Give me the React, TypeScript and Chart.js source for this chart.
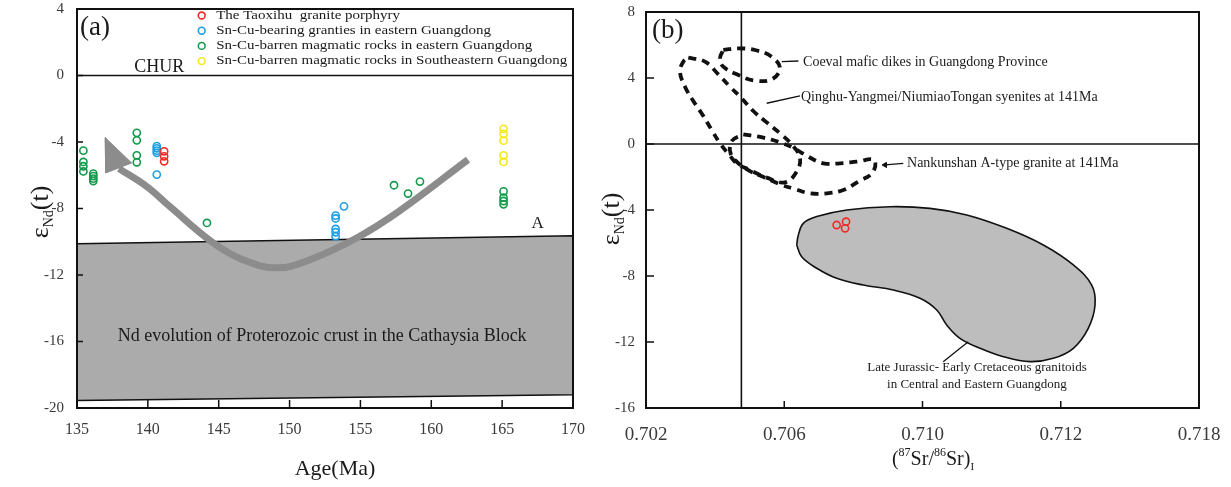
import React, { useEffect, useRef } from 'react';
import { Chart, registerables } from 'chart.js';

Chart.register(...registerables);

const SERIF = "'Liberation Serif', 'Times New Roman', serif";

// ---------------- Panel (a): εNd(t) vs Age ----------------
const ageTicksStep = 5;
const ageRange = [135, 170];
const ndRangeA = [-20, 4];

const legendLabels = [
  'The Taoxihu  granite porphyry',
  'Sn-Cu-bearing granties in eastern Guangdong',
  'Sn-Cu-barren magmatic rocks in eastern Guangdong',
  'Sn-Cu-barren magmatic rocks in Southeastern Guangdong',
];
const seriesColors = ['#ee2b26', '#1c9fe3', '#14994a', '#f5e81c'];

const taoxihu: number[][] = [
  [141.15, -4.56], [141.15, -4.86], [141.15, -5.16],
];
const snCuBearing: number[][] = [
  [140.63, -4.25], [140.63, -4.38], [140.63, -4.52], [140.63, -4.65], [140.63, -5.96],
  [153.84, -7.87], [153.25, -8.43], [153.25, -8.6],
  [153.25, -9.23], [153.25, -9.43], [153.25, -9.67],
];
const snCuBarrenEast: number[][] = [
  [135.45, -4.52], [135.45, -5.2], [135.45, -5.46], [135.45, -5.77],
  [136.15, -5.9], [136.15, -6.05], [136.15, -6.2], [136.15, -6.35],
  [139.22, -3.45], [139.22, -3.9], [139.22, -4.8], [139.22, -5.22],
  [144.17, -8.87],
  [157.37, -6.6], [158.36, -7.1], [159.2, -6.38],
  [165.1, -6.97], [165.1, -7.35], [165.1, -7.55], [165.1, -7.75],
];
const snCuBarrenSE: number[][] = [
  [165.1, -3.21], [165.1, -3.51], [165.1, -3.92], [165.1, -4.8], [165.1, -5.2],
];

const churLine: number[][] = [[135, 0], [170, 0]];
const crustField: number[][] = [
  [135, -10.12], [170, -9.64], [170, -19.2], [135, -19.55], [135, -10.12],
];
const evolutionPath: number[][] = [
  [162.59, -5.06], [157.79, -8.13], [154.76, -9.76], [151.44, -11.08], [149.11, -11.57],
  [146.71, -11.08], [144.6, -10.06], [141.56, -7.89], [139.94, -6.69], [137.96, -5.6],
];
const arrowHead: number[][] = [
  [136.98, -3.73], [137.03, -5.86], [138.86, -5.26], [136.98, -3.73],
];

// ---------------- Panel (b): εNd(t) vs (87Sr/86Sr)i ----------------
// x axis is drawn in tick-interval units (0..4) labelled with the printed values
const srTickLabels = ['0.702', '0.706', '0.710', '0.712', '0.718'];
const ndRangeB = [-16, 8];
const bulkEarthSrPos = 0.69;

const taoxihuSrNd: number[][] = [[1.379, -4.91], [1.447, -4.71], [1.44, -5.11]];

const maficDikesField: number[][] = [
  [0.559, 5.7], [0.668, 5.8], [0.796, 5.68], [0.909, 5.29], [0.969, 4.59], [0.909, 3.92],
  [0.776, 3.86], [0.668, 4.18], [0.559, 4.69], [0.535, 5.19], [0.559, 5.7],
];
const syeniteField: number[][] = [
  [0.306, 5.23], [0.427, 4.99], [0.523, 4.22], [0.608, 3.47], [0.692, 2.77], [0.776, 2.0],
  [0.873, 1.31], [0.969, 0.65], [1.061, -0.1], [1.114, -0.83], [1.09, -1.68], [1.005, -2.32],
  [0.873, -2.04], [0.752, -1.58], [0.656, -1.17], [0.603, -0.67], [0.535, 0.04], [0.475, 0.85],
  [0.41, 1.76], [0.342, 2.61], [0.282, 3.47], [0.246, 4.38], [0.27, 4.99], [0.306, 5.23],
];
const nankunshanField: number[][] = [
  [0.704, 0.59], [0.849, 0.38], [0.969, 0.1], [1.071, -0.26], [1.174, -0.77], [1.283, -1.17],
  [1.403, -1.17], [1.524, -1.07], [1.649, -0.97], [1.64, -1.72], [1.536, -2.28], [1.427, -2.79],
  [1.307, -2.99], [1.186, -2.99], [1.078, -2.73], [0.969, -2.44], [0.861, -2.04], [0.752, -1.64],
  [0.668, -1.17], [0.612, -0.57], [0.62, 0.18], [0.704, 0.59],
];
const jurassicField: number[][] = [
  [1.09, -6.12], [1.102, -5.52], [1.138, -4.81], [1.235, -4.4], [1.452, -4.0], [1.765, -3.8],
  [2.054, -3.9], [2.32, -4.3], [2.609, -5.11], [2.874, -6.12], [3.091, -7.33], [3.224, -8.55],
  [3.248, -9.76], [3.199, -11.17], [3.091, -12.38], [2.946, -12.99], [2.778, -13.19],
  [2.585, -12.89], [2.416, -12.38], [2.271, -11.78], [2.175, -10.97], [2.103, -10.06],
  [1.982, -9.35], [1.789, -8.85], [1.572, -8.55], [1.379, -8.14], [1.235, -7.53],
  [1.126, -6.83], [1.09, -6.12],
];
const leaderMafic: number[][] = [[0.982, 4.99], [1.102, 5.03]];
const leaderSyenite: number[][] = [[0.873, 2.47], [1.114, 2.91]];
const leaderNankunshan: number[][] = [[1.861, -1.17], [1.729, -1.27]];
const leaderJurassic: number[][] = [[2.331, -11.98], [2.15, -13.19]];

const fieldLabels = [
  'Coeval mafic dikes in Guangdong Province',
  'Qinghu-Yangmei/NiumiaoTongan syenites at 141Ma',
  'Nankunshan A-type granite at 141Ma',
  'Late Jurassic- Early Cretaceous granitoids',
  'in Central and Eastern Guangdong',
];

const pts = (arr: number[][]) => arr.map(([x, y]) => ({ x, y }));

function drawEpsNd(ctx: CanvasRenderingContext2D, cx: number, cy: number) {
  ctx.save();
  ctx.translate(cx, cy);
  ctx.rotate(-Math.PI / 2);
  ctx.fillStyle = '#1a1a1a';
  ctx.textBaseline = 'alphabetic';
  ctx.textAlign = 'left';
  const big = `26px ${SERIF}`;
  const small = `14px ${SERIF}`;
  ctx.font = big;
  const w1 = ctx.measureText('ε').width;
  const w3 = ctx.measureText('(t)').width;
  ctx.font = small;
  const w2 = ctx.measureText('Nd').width;
  let x0 = -(w1 + w2 + w3) / 2;
  ctx.font = big;
  ctx.fillText('ε', x0, 9);
  x0 += w1;
  ctx.font = small;
  ctx.fillText('Nd', x0, 14);
  x0 += w2;
  ctx.font = big;
  ctx.fillText('(t)', x0, 9);
  ctx.restore();
}

function frameAndTicks(chart: any, xTickLen: number, yTickLen: number) {
  const { ctx, chartArea: a, scales } = chart;
  const xs = scales.x;
  const ys = scales.y;
  ctx.strokeStyle = '#111';
  ctx.lineWidth = 2;
  ctx.strokeRect(a.left, a.top, a.right - a.left, a.bottom - a.top);
  ctx.lineWidth = 1.5;
  ctx.beginPath();
  xs.ticks.forEach((t: any) => {
    const px = xs.getPixelForValue(t.value);
    ctx.moveTo(px, a.bottom);
    ctx.lineTo(px, a.bottom - xTickLen);
  });
  ys.ticks.forEach((t: any) => {
    const py = ys.getPixelForValue(t.value);
    ctx.moveTo(a.left, py);
    ctx.lineTo(a.left + yTickLen, py);
  });
  ctx.stroke();
}

const decorA = {
  id: 'decorA',
  afterDatasetsDraw(chart: any) {
    const { ctx, chartArea: a, scales } = chart;
    const x = scales.x;
    const y = scales.y;
    ctx.save();
    frameAndTicks(chart, 8, 6);
    ctx.fillStyle = '#1a1a1a';
    ctx.textAlign = 'center';
    ctx.textBaseline = 'alphabetic';
    ctx.font = `18px ${SERIF}`;
    ctx.fillText('CHUR', x.getPixelForValue(140.8), y.getPixelForValue(0.2));
    ctx.font = `17px ${SERIF}`;
    ctx.fillText('A', x.getPixelForValue(167.5), y.getPixelForValue(-9.2));
    ctx.font = `18px ${SERIF}`;
    ctx.textBaseline = 'middle';
    ctx.fillText('Nd evolution of Proterozoic crust in the Cathaysia Block',
      x.getPixelForValue(152.3), y.getPixelForValue(-15.7));
    ctx.textAlign = 'left';
    ctx.textBaseline = 'alphabetic';
    ctx.font = `27px ${SERIF}`;
    ctx.fillText('(a)', a.left + 3, a.top + 26);

    // legend
    ctx.font = `12.5px ${SERIF}`;
    const longest = Math.max(...legendLabels.map((l) => ctx.measureText(l).width));
    const sx = 351 / longest;
    const lx = a.left + 124.7;
    legendLabels.forEach((label, i) => {
      const ly = a.top + 6.5 + i * 15.2;
      ctx.beginPath();
      ctx.strokeStyle = seriesColors[i];
      ctx.lineWidth = 1.6;
      ctx.arc(lx, ly, 3.4, 0, Math.PI * 2);
      ctx.stroke();
      ctx.save();
      ctx.translate(lx + 14.5, ly);
      ctx.scale(sx, 1);
      ctx.fillStyle = '#1a1a1a';
      ctx.textBaseline = 'middle';
      ctx.fillText(label, 0, 0);
      ctx.restore();
    });

    drawEpsNd(ctx, 39, 212);
    ctx.fillStyle = '#1a1a1a';
    ctx.textAlign = 'center';
    ctx.textBaseline = 'middle';
    ctx.font = `22px ${SERIF}`;
    ctx.fillText('Age(Ma)', (a.left + a.right) / 2 + 10, 469);
    ctx.restore();
  },
};

const decorB = {
  id: 'decorB',
  afterDatasetsDraw(chart: any) {
    const { ctx, chartArea: a, scales } = chart;
    const x = scales.x;
    const y = scales.y;
    ctx.save();
    frameAndTicks(chart, 7, 8);
    ctx.fillStyle = '#1a1a1a';
    ctx.textAlign = 'left';
    ctx.textBaseline = 'middle';
    ctx.font = `14px ${SERIF}`;
    ctx.fillText(fieldLabels[0], x.getPixelForValue(1.136), y.getPixelForValue(4.97));
    ctx.fillText(fieldLabels[1], x.getPixelForValue(1.121), y.getPixelForValue(2.85));
    ctx.fillText(fieldLabels[2], x.getPixelForValue(1.888), y.getPixelForValue(-1.15));
    ctx.textAlign = 'center';
    ctx.font = `13px ${SERIF}`;
    ctx.fillText(fieldLabels[3], x.getPixelForValue(2.394), y.getPixelForValue(-13.58));
    ctx.fillText(fieldLabels[4], x.getPixelForValue(2.394), y.getPixelForValue(-14.6));
    ctx.textAlign = 'left';
    ctx.textBaseline = 'alphabetic';
    ctx.font = `27px ${SERIF}`;
    ctx.fillText('(b)', a.left + 6, a.top + 26);

    drawEpsNd(ctx, 10, 219);

    // x title: (87Sr/86Sr)I
    const big = `20px ${SERIF}`;
    const sup = `12px ${SERIF}`;
    const parts: [string, string, number][] = [
      ['(', big, 0], ['87', sup, -9], ['Sr/', big, 0], ['86', sup, -9], ['Sr)', big, 0], ['I', `11px ${SERIF}`, 5],
    ];
    let total = 0;
    parts.forEach(([t, f]) => { ctx.font = f; total += ctx.measureText(t).width; });
    let px = 333 - total / 2;
    const base = 465;
    parts.forEach(([t, f, dy]) => {
      ctx.font = f;
      ctx.fillText(t, px, base + dy);
      px += ctx.measureText(t).width;
    });
    ctx.restore();
  },
};

function baseScales(xMin: number, xMax: number, xStep: number, yMin: number, yMax: number,
  yW: number, xH: number, xFont: number, yFont: number, xPad: number, yPad: number, xCb?: any) {
  return {
    x: {
      type: 'linear', min: xMin, max: xMax,
      ticks: {
        stepSize: xStep, autoSkip: false, maxRotation: 0, padding: xPad,
        color: '#3a3a3a', font: { family: SERIF, size: xFont },
        ...(xCb ? { callback: xCb } : {}),
      },
      grid: { display: false, drawTicks: false },
      border: { display: false },
      afterFit: (s: any) => { s.height = xH; s.paddingLeft = 0; s.paddingRight = 0; },
    },
    y: {
      type: 'linear', min: yMin, max: yMax,
      ticks: { stepSize: 4, padding: yPad, color: '#3a3a3a', font: { family: SERIF, size: yFont } },
      grid: { display: false, drawTicks: false },
      border: { display: false },
      afterFit: (s: any) => { s.width = yW; s.paddingTop = 0; s.paddingBottom = 0; },
    },
  };
}

export default function App() {
  const refA = useRef<HTMLCanvasElement>(null);
  const refB = useRef<HTMLCanvasElement>(null);

  useEffect(() => {
    const scatterSet = (label: string, data: number[][], color: string) => ({
      label, data: pts(data), showLine: false, order: 0,
      pointRadius: 3.6, pointBorderWidth: 1.6, pointBorderColor: color,
      pointBackgroundColor: 'rgba(0,0,0,0)', pointHoverRadius: 3.6,
    });
    const lineSet = (data: number[][], extra: any) => ({
      data: pts(data), showLine: true, pointRadius: 0, fill: false, tension: 0, ...extra,
    });

    const chartA = new Chart(refA.current as HTMLCanvasElement, {
      type: 'scatter',
      data: {
        datasets: [
          scatterSet(legendLabels[0], taoxihu, seriesColors[0]),
          scatterSet(legendLabels[1], snCuBearing, seriesColors[1]),
          scatterSet(legendLabels[2], snCuBarrenEast, seriesColors[2]),
          scatterSet(legendLabels[3], snCuBarrenSE, seriesColors[3]),
          lineSet(arrowHead, { order: 1, fill: 'shape', backgroundColor: '#8c8c8c', borderColor: '#8c8c8c', borderWidth: 1 }),
          lineSet(evolutionPath, { order: 1, tension: 0.4, borderColor: '#8c8c8c', borderWidth: 7 }),
          lineSet(churLine, { order: 2, borderColor: '#111', borderWidth: 1.5 }),
          lineSet(crustField, { order: 3, fill: 'shape', backgroundColor: '#ababab', borderColor: '#111', borderWidth: 1.6 }),
        ],
      } as any,
      options: {
        responsive: false,
        animation: false,
        events: [],
        layout: { padding: { left: 0, top: 9, right: 27, bottom: 0 } },
        plugins: { legend: { display: false }, tooltip: { enabled: false } },
        scales: baseScales(ageRange[0], ageRange[1], ageTicksStep, ndRangeA[0], ndRangeA[1],
          77, 79, 16, 15, 12, 13) as any,
      },
      plugins: [decorA],
    });

    const dashed = { borderColor: '#111', borderWidth: 3.8, borderDash: [8, 6], tension: 0.4, order: 2 };
    const chartB = new Chart(refB.current as HTMLCanvasElement, {
      type: 'scatter',
      data: {
        datasets: [
          scatterSet('Taoxihu', taoxihuSrNd, seriesColors[0]),
          lineSet(maficDikesField, dashed),
          lineSet(syeniteField, dashed),
          lineSet(nankunshanField, dashed),
          lineSet(leaderMafic, { order: 1, borderColor: '#111', borderWidth: 1.3 }),
          lineSet(leaderSyenite, { order: 1, borderColor: '#111', borderWidth: 1.3 }),
          lineSet(leaderNankunshan, {
            order: 1, borderColor: '#111', borderWidth: 1.3,
            pointRadius: [0, 3], pointStyle: 'triangle', rotation: 270,
            pointBackgroundColor: '#111', pointBorderColor: '#111', pointBorderWidth: 1,
          }),
          lineSet(leaderJurassic, { order: 1, borderColor: '#111', borderWidth: 1.3 }),
          lineSet([[bulkEarthSrPos, ndRangeB[0]], [bulkEarthSrPos, ndRangeB[1]]], { order: 3, borderColor: '#111', borderWidth: 1.6 }),
          lineSet([[0, 0], [srTickLabels.length - 1, 0]], { order: 3, borderColor: '#111', borderWidth: 1.3 }),
          lineSet(jurassicField, { order: 4, tension: 0.4, fill: 'shape', backgroundColor: '#bdbdbd', borderColor: '#111', borderWidth: 1.6 }),
        ],
      } as any,
      options: {
        responsive: false,
        animation: false,
        events: [],
        layout: { padding: { left: 0, top: 12, right: 32, bottom: 0 } },
        plugins: { legend: { display: false }, tooltip: { enabled: false } },
        scales: baseScales(0, srTickLabels.length - 1, 1, ndRangeB[0], ndRangeB[1],
          46, 79, 19, 15, 16, 11, (v: any) => srTickLabels[Math.round(Number(v))] ?? '') as any,
      },
      plugins: [decorB],
    });

    return () => {
      chartA.destroy();
      chartB.destroy();
    };
  }, []);

  return (
    <div style={{ position: 'fixed', left: 0, top: 0, width: 1231, height: 487, background: '#fff' }}>
      <canvas ref={refA} width={600} height={487}
        style={{ position: 'absolute', left: 0, top: 0, width: 600, height: 487 }} />
      <canvas ref={refB} width={631} height={487}
        style={{ position: 'absolute', left: 600, top: 0, width: 631, height: 487 }} />
    </div>
  );
}
